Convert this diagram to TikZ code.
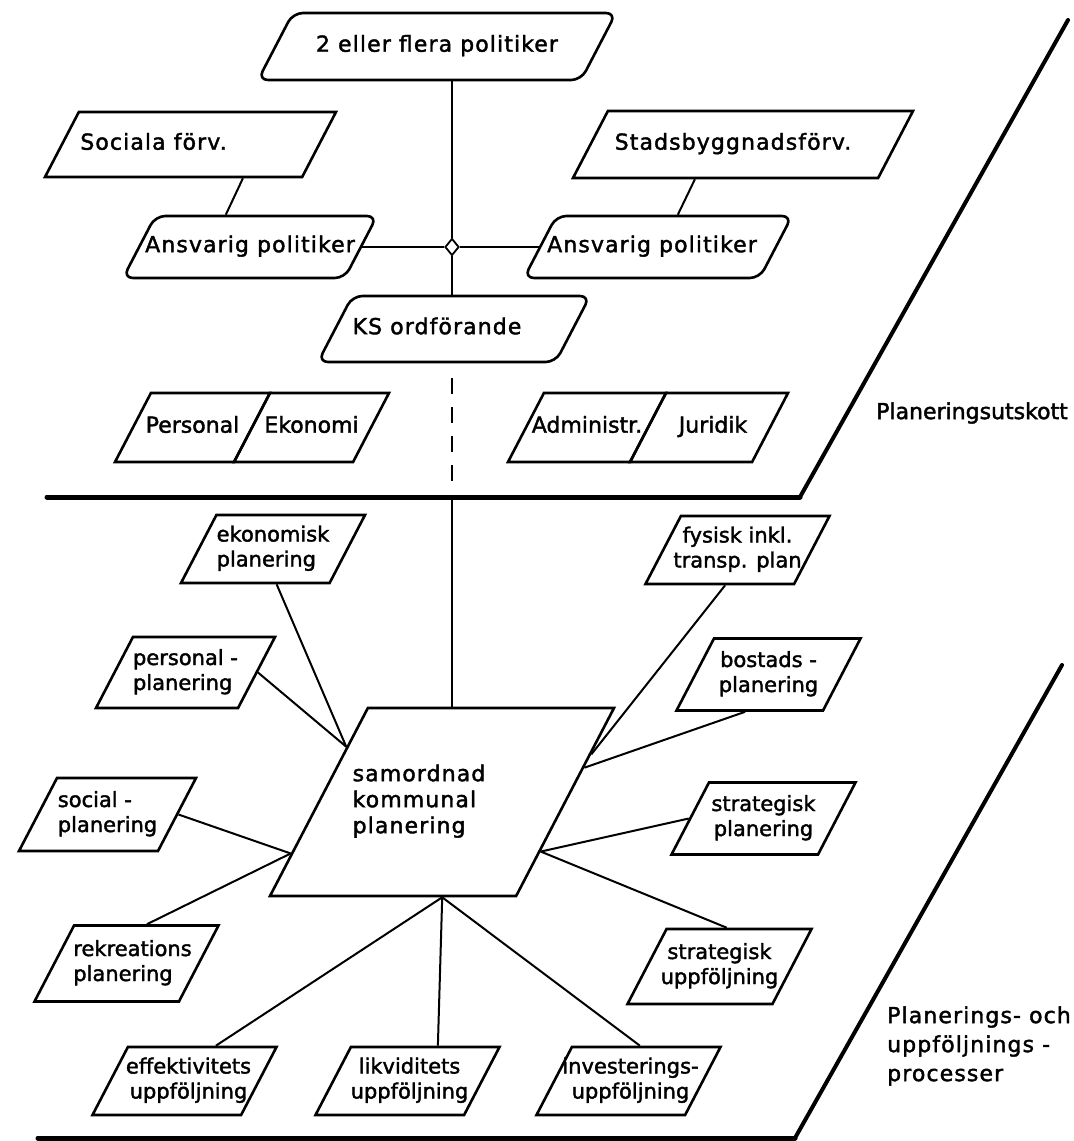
\documentclass[tikz,border=0pt]{standalone}
\usepackage{fontspec}
\setmainfont{DejaVu Sans}[FakeBold=1.8]
\newfontfamily\spacedfont[LetterSpace=5,FakeBold=1.8]{DejaVu Sans}
\usetikzlibrary{shapes.geometric,calc}
% #1 shift of the text, #2 box height, #3 column type, #4 text
\newcommand\boxtext[4][0pt]{\vbox to #2{\vfil\hbox{\makebox[0pt]{\hspace*{2\dimexpr#1\relax}\begin{tabular}{@{}#3@{}}#4\end{tabular}}}\vfil}}
\tikzset{
  pbox/.style={trapezium, draw, line width=2.6pt,
    trapezium left angle=62.5, trapezium right angle=117.5,
    trapezium stretches body, inner sep=0pt,
    minimum width=184pt,
    font=\fontsize{21}{25}\selectfont},
  ubox/.style={pbox, font=\spacedfont\fontsize{22}{26}\selectfont},
  rbox/.style={ubox, rounded corners=10pt},
  sbox/.style={pbox, font=\fontsize{22}{26}\selectfont},
  wire/.style={line width=2pt},
  layer/.style={line width=4pt, line cap=round},
  junc/.style={diamond, draw, line width=1.8pt, fill=white,
    minimum width=14pt, minimum height=17pt, inner sep=0pt},
  sidetext/.style={inner sep=0pt, font=\fontsize{22}{29}\selectfont}
}
\begin{document}
\begin{tikzpicture}[x=1pt,y=-1pt]
\useasboundingbox (0,0) rectangle (1074,1141);
% Drawing layer borders
\coordinate (uL) at (47,497);
\coordinate (uR) at (800,497);
\coordinate (uT) at (1068,20);
\coordinate (pL) at (38,1138);
\coordinate (pR) at (795,1138);
\coordinate (pT) at (1062,665);
\draw[layer, line width=5pt] (uL) -- (uR);
\draw[layer] (uR) -- (uT);
\draw[layer, line width=5pt] (pL) -- (pR);
\draw[layer] (pR) -- (pT);
\node[sidetext] (utsk) at (972,413) {Planeringsutskott};
\node[sidetext, anchor=west, align=left, font=\spacedfont\fontsize{22}{29}\selectfont] (proc) at (887,1046) {Planerings- och\\uppföljnings -\\processer};
% Done with borders; drawing upper layer
\node[rbox, minimum width=358pt] (pol) at (437,46.5) {\boxtext{67pt}{c}{2 eller flera politiker}};
\node[ubox, minimum width=291pt] (soc) at (190.5,144.5) {\boxtext[-37pt]{65pt}{c}{Sociala förv.}};
\node[ubox, minimum width=340pt] (stads) at (743,144.5) {\boxtext[-10pt]{67pt}{c}{Stadsbyggnadsförv.}};
\node[rbox, minimum width=254pt] (ansL) at (250,247) {\boxtext{62pt}{c}{Ansvarig politiker}};
\node[rbox, minimum width=268pt] (ansR) at (658,247) {\boxtext[-6pt]{62pt}{c}{Ansvarig politiker}};
\node[rbox, minimum width=272pt] (ks) at (454,329) {\boxtext[-17pt]{66pt}{c}{KS ordförande}};
\node[junc] (dia) at (452,247) {};
\node[sbox, minimum width=155pt] (pers) at (192.5,427.5) {\boxtext{69pt}{c}{Personal}};
\node[sbox, minimum width=155pt] (ekon) at (311.5,427.5) {\boxtext{69pt}{c}{Ekonomi}};
\node[sbox, minimum width=158pt] (adm) at (587,427.5) {\boxtext{69pt}{c}{Administr.}};
\node[sbox, minimum width=158pt] (jur) at (709,427.5) {\boxtext[4pt]{69pt}{c}{Juridik}};
% Upper layer wires
\draw[wire] (pol.south -| dia) -- (dia.north);
\draw[wire] (dia.south) -- (ks.north -| dia);
\draw[wire] (dia.west) -- (ansL.right side);
\draw[wire] (dia.east) -- (ansR.left side);
\draw[wire] ([xshift=70pt]soc.bottom side) -- ([xshift=-41pt]ansL.top side);
\draw[wire] ([xshift=-30pt]stads.bottom side) -- ([xshift=3pt]ansR.top side);
\draw[wire, dash pattern=on 16pt off 13pt] ($(ks.south -| dia)+(0,15)$) -- ($(dia |- uL)+(0,-10)$);
% Done with upper layer; drawing lower layer
\node[ubox, minimum width=344pt] (sam) at (442,802) {\boxtext[-23pt]{188pt}{l}{samordnad\\kommunal\\planering}};
\node[pbox] (eko) at (273,549) {\boxtext{68pt}{l}{ekonomisk\\planering}};
\node[pbox, minimum width=179pt] (perspl) at (185.5,672.5) {\boxtext{71pt}{l}{personal -\\planering}};
\node[pbox] (fys) at (737.5,550) {\boxtext{68pt}{c}{fysisk inkl.\\transp. plan}};
\node[pbox] (bost) at (768.5,674.5) {\boxtext{72pt}{c}{bostads -\\planering}};
\node[pbox, minimum width=177pt] (socpl) at (107.5,814.5) {\boxtext{73pt}{l}{social -\\planering}};
\node[pbox] (strpl) at (763.5,818.5) {\boxtext{72pt}{c}{strategisk\\planering}};
\node[pbox] (rekr) at (126.5,963.5) {\boxtext[6pt]{76pt}{l}{rekreations\\planering}};
\node[pbox] (strup) at (719.5,966.5) {\boxtext{75pt}{c}{strategisk\\uppföljning}};
\node[pbox] (eff) at (184.5,1081) {\boxtext[4pt]{68pt}{c}{effektivitets\\uppföljning}};
\node[pbox] (likv) at (407.5,1081) {\boxtext[2pt]{68pt}{c}{likviditets\\uppföljning}};
\node[pbox] (inv) at (628.5,1081) {\boxtext[2pt]{68pt}{c}{investerings-\\uppföljning}};
% Attachment points on the centre box
\coordinate (samL1) at ($(sam.top left corner)!0.21!(sam.bottom left corner)$);
\coordinate (samL2) at ($(sam.top left corner)!0.77!(sam.bottom left corner)$);
\coordinate (samR1) at ($(sam.top right corner)!0.25!(sam.bottom right corner)$);
\coordinate (samR2) at ($(sam.top right corner)!0.32!(sam.bottom right corner)$);
\coordinate (samR3) at ($(sam.top right corner)!0.76!(sam.bottom right corner)$);
\coordinate (samB) at ($(sam.bottom left corner)!0.70!(sam.bottom right corner)$);
% Lower layer wires
\draw[wire] (dia |- uL) -- (dia |- sam.north);
\draw[wire] ([xshift=22pt]eko.bottom side) -- (samL1);
\draw[wire] (perspl.right side) -- (samL1);
\draw[wire] ([xshift=6pt]fys.bottom side) -- (samR1);
\draw[wire] ([xshift=-4pt]bost.bottom side) -- (samR2);
\draw[wire] (socpl.right side) -- (samL2);
\draw[wire] (rekr.top side) -- (samL2);
\draw[wire] (strpl.left side) -- (samR3);
\draw[wire] ([xshift=-13pt]strup.top side) -- (samR3);
\draw[wire] ([xshift=13pt]eff.top side) -- (samB);
\draw[wire] ([xshift=12pt]likv.top side) -- (samB);
\draw[wire] ([xshift=-7pt]inv.top side) -- (samB);
% Done with lower layer
\end{tikzpicture}
\end{document}
